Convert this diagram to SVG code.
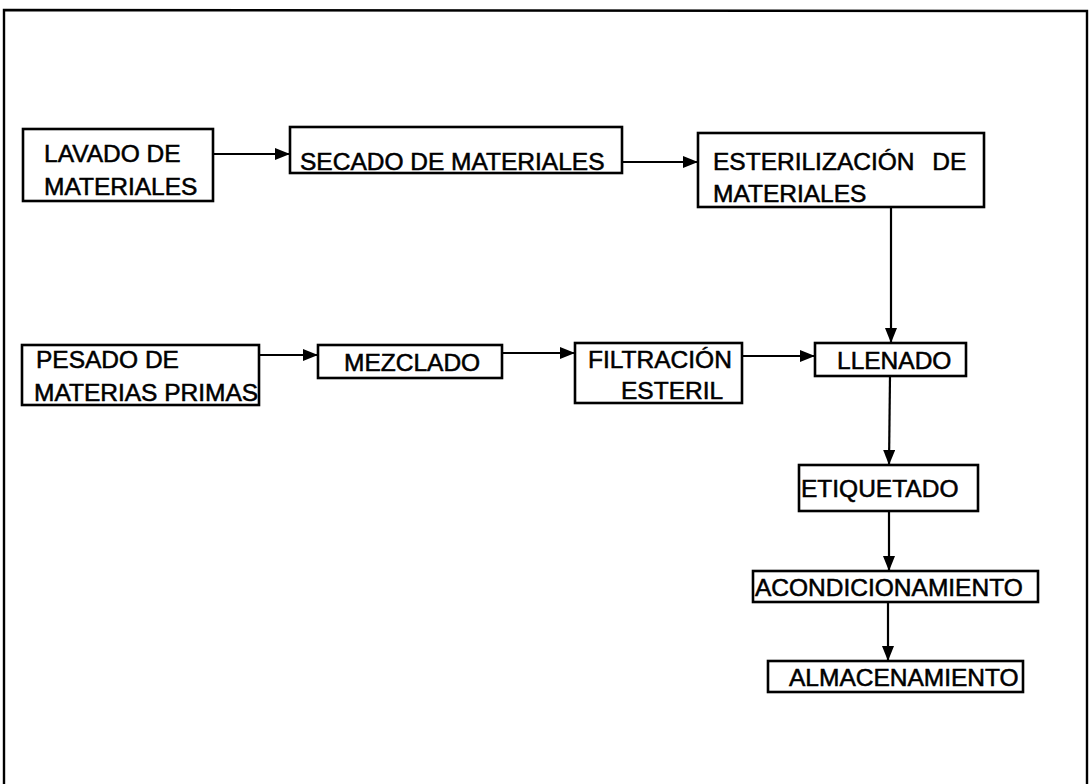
<svg xmlns="http://www.w3.org/2000/svg" width="1092" height="784" viewBox="0 0 1092 784">
  <style>
    .box { fill: #ffffff; stroke: #000000; stroke-width: 2.6; }
    .lbl { font-family: "Liberation Sans", Arial, sans-serif; font-size: 24.5px; fill: #000000; stroke: #000000; stroke-width: 0.55; }
    .conn { stroke: #000000; stroke-width: 2.2; fill: none; marker-end: url(#arrow); }
    .frame { fill: none; stroke: #000000; stroke-width: 2.4; }
  </style>
  <defs>
    <marker id="arrow" markerUnits="userSpaceOnUse" markerWidth="15" markerHeight="12" refX="15" refY="6" orient="auto">
      <path d="M0,0 L15,6 L0,12 z" fill="#000000"/>
    </marker>
  </defs>
  <rect width="1092" height="784" fill="#ffffff"/>
  <path class="frame" d="M4,790 L4,10 L1087,11 L1087,790"/>

  <g id="connectors">
    <line class="conn" x1="213" y1="154" x2="290" y2="154"/>
    <line class="conn" x1="622" y1="162" x2="698" y2="162"/>
    <line class="conn" x1="891" y1="207" x2="891" y2="343"/>
    <line class="conn" x1="259" y1="355" x2="318" y2="355"/>
    <line class="conn" x1="502" y1="353" x2="575" y2="353"/>
    <line class="conn" x1="742" y1="356" x2="815" y2="356"/>
    <line class="conn" x1="890" y1="376" x2="889" y2="465"/>
    <line class="conn" x1="889" y1="511" x2="889" y2="571"/>
    <line class="conn" x1="888" y1="602" x2="888" y2="661"/>
  </g>

  <g id="lavado">
    <rect class="box" x="23" y="129" width="190" height="72"/>
    <text class="lbl" x="44" y="162">LAVADO DE</text>
    <text class="lbl" x="44" y="195">MATERIALES</text>
  </g>
  <g id="secado">
    <rect class="box" x="290" y="127" width="332" height="46"/>
    <text class="lbl" x="300" y="170">SECADO DE MATERIALES</text>
  </g>
  <g id="esterilizacion">
    <rect class="box" x="698" y="133" width="286" height="74"/>
    <text class="lbl" x="713" y="170">ESTERILIZACIÓN <tspan dx="11">DE</tspan></text>
    <text class="lbl" x="713" y="202">MATERIALES</text>
  </g>
  <g id="pesado">
    <rect class="box" x="22" y="345" width="237" height="60"/>
    <text class="lbl" x="36" y="368">PESADO DE</text>
    <text class="lbl" x="34" y="401">MATERIAS PRIMAS</text>
  </g>
  <g id="mezclado">
    <rect class="box" x="318" y="345" width="184" height="33"/>
    <text class="lbl" x="344" y="371">MEZCLADO</text>
  </g>
  <g id="filtracion">
    <rect class="box" x="575" y="343" width="167" height="60"/>
    <text class="lbl" x="588" y="368">FILTRACIÓN</text>
    <text class="lbl" x="621" y="399">ESTERIL</text>
  </g>
  <g id="llenado">
    <rect class="box" x="815" y="343" width="151" height="33"/>
    <text class="lbl" x="837" y="369">LLENADO</text>
  </g>
  <g id="etiquetado">
    <rect class="box" x="799" y="465" width="179" height="46"/>
    <text class="lbl" x="801" y="497">ETIQUETADO</text>
  </g>
  <g id="acondicionamiento">
    <rect class="box" x="753" y="571" width="285" height="31"/>
    <text class="lbl" x="755" y="596">ACONDICIONAMIENTO</text>
  </g>
  <g id="almacenamiento">
    <rect class="box" x="768" y="661" width="255" height="31"/>
    <text class="lbl" x="789" y="686">ALMACENAMIENTO</text>
  </g>
</svg>
